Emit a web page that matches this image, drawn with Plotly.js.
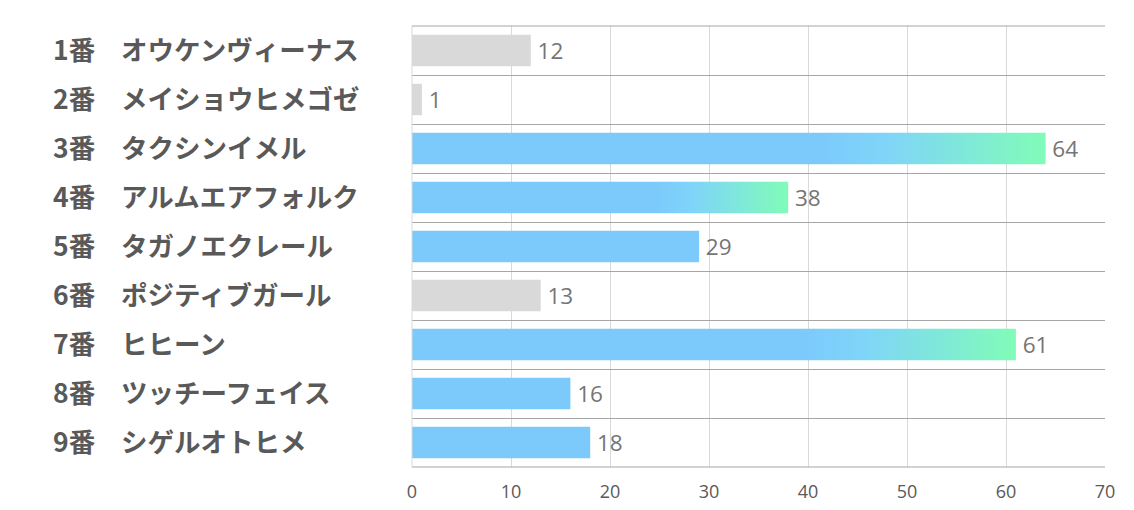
<!DOCTYPE html>
<html>
<head>
<meta charset="utf-8">
<script src="https://cdn.plot.ly/plotly-3.0.1.min.js"></script>
<style>
html,body{margin:0;padding:0;background:#fff;}
#chart{width:1134px;height:510px;}
</style>
</head>
<body>
<div id="chart"></div>
<script>
// ---- data ----
const numbers = ['1番','2番','3番','4番','5番','6番','7番','8番','9番'];
const names = ['オウケンヴィーナス','メイショウヒメゴゼ','タクシンイメル','アルムエアフォルク','タガノエクレール','ポジティブガール','ヒヒーン','ツッチーフェイス','シゲルオトヒメ'];
const values = [12, 1, 64, 38, 29, 13, 61, 16, 18];
const xTicks = [0, 10, 20, 30, 40, 50, 60, 70];

// ---- style ----
const barKind = ['gray','gray','grad','grad','blue','gray','grad','blue','blue'];
const kindColor = {gray:'#d9d9d9', blue:'#7ccafc', grad:'#7ccafc'};

const trace = {
  type: 'bar',
  orientation: 'h',
  y: numbers,
  x: values,
  text: values.map(v => '\u2009' + v),
  textposition: 'outside',
  cliponaxis: false,
  textfont: {family: 'Open Sans, Noto Sans, sans-serif', size: 23, color: '#757575'},
  marker: {color: barKind.map(k => kindColor[k]), line: {width: 0}},
  hoverinfo: 'none'
};

const labelFont = {family:'Noto Sans CJK JP', size:26.5, color:'#595959', weight:700};
const annotations = [];
numbers.forEach((n, i) => {
  annotations.push({xref:'paper', yref:'y', x:(51-412)/693, y:n, xanchor:'left', yanchor:'middle', yshift:2.5,
    text:n, showarrow:false, font:labelFont});
  annotations.push({xref:'paper', yref:'y', x:(119-412)/693, y:n, xanchor:'left', yanchor:'middle', yshift:2.5,
    text:names[i], showarrow:false, font:labelFont});
});

const layout = {
  width: 1134, height: 510,
  margin: {l: 412, r: 29, t: 26, b: 43},
  paper_bgcolor: '#fff', plot_bgcolor: '#fff',
  showlegend: false,
  bargap: 0.36,
  xaxis: {
    range: [0, 70], tickvals: xTicks, ticktext: xTicks.map(String),
    showgrid: true, gridcolor: '#d9d9d9', gridwidth: 1,
    zeroline: false, showline: false, ticks: '',
    ticklabelstandoff: 12,
    tickfont: {family: 'Open Sans, Noto Sans, sans-serif', size: 18, color: '#595959'},
    fixedrange: true
  },
  yaxis: {
    type: 'category', categoryorder: 'array', categoryarray: numbers,
    autorange: 'reversed',
    tickson: 'boundaries', showgrid: true, gridcolor: '#a6a6a6', gridwidth: 1,
    showticklabels: false, ticks: '', zeroline: false, showline: false,
    fixedrange: true
  },
  shapes: [
    {type:'line', xref:'paper', yref:'paper', x0:0, x1:0, y0:0, y1:1, line:{color:'#d9d9d9', width:1}},
    {type:'line', xref:'paper', yref:'paper', x0:0, x1:1, y0:1, y1:1, line:{color:'#a6a6a6', width:1}},
    {type:'line', xref:'paper', yref:'paper', x0:0, x1:1, y0:0, y1:0, line:{color:'#a6a6a6', width:1}}
  ],
  annotations: annotations
};

Plotly.newPlot('chart', [trace], layout, {staticPlot: true, displayModeBar: false}).then(gd => {
  const svg = gd.querySelector('svg.main-svg');
  const NS = 'http://www.w3.org/2000/svg';
  let defs = svg.querySelector('defs');
  if (!defs) { defs = document.createElementNS(NS, 'defs'); svg.insertBefore(defs, svg.firstChild); }
  const lg = document.createElementNS(NS, 'linearGradient');
  lg.setAttribute('id', 'barGrad');
  lg.setAttribute('x1', '0'); lg.setAttribute('x2', '1'); lg.setAttribute('y1', '0'); lg.setAttribute('y2', '0');
  [['0', '#7ccafc'], ['0.65', '#7ccafc'], ['0.75', '#7fd5f8'], ['1', '#80fcb8']].forEach(([o, c]) => {
    const s = document.createElementNS(NS, 'stop');
    s.setAttribute('offset', o); s.setAttribute('stop-color', c);
    lg.appendChild(s);
  });
  defs.appendChild(lg);
  const paths = gd.querySelectorAll('.trace.bars .point path');
  paths.forEach((p, i) => {
    if (barKind[i] === 'grad') p.style.fill = 'url(#barGrad)';
  });
});
</script>
</body>
</html>
